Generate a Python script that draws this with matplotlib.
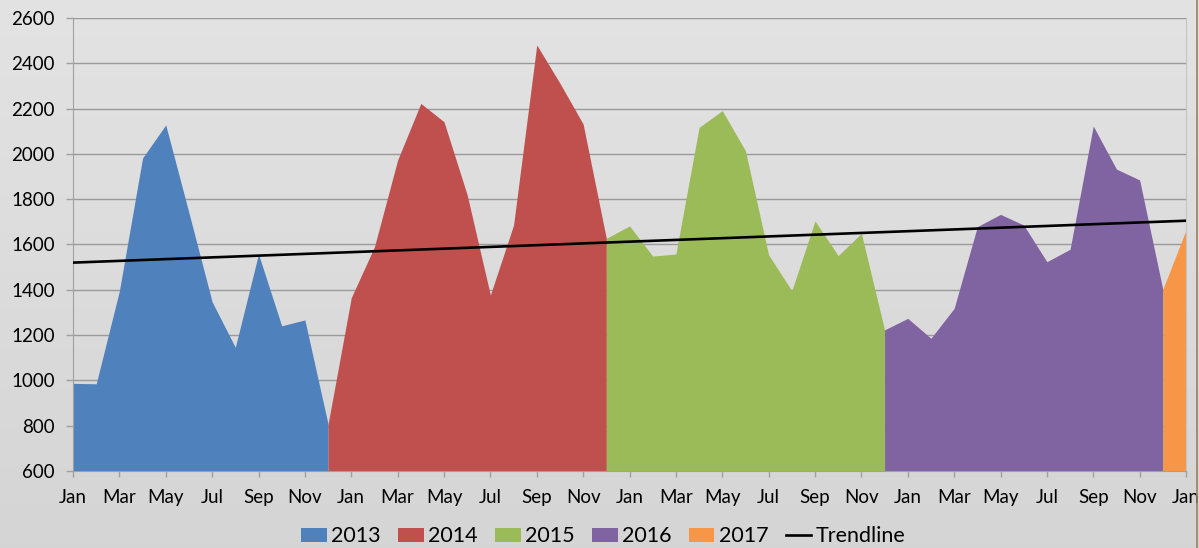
import numpy as np
import matplotlib
matplotlib.use("Agg")
import matplotlib.pyplot as plt
from matplotlib.patches import Patch
from matplotlib.lines import Line2D

# ── data (monthly values) ──────────────────────────────────────────────────
sales_2013 = [987, 985, 1395, 1982, 2128, 1740, 1347, 1146, 1558, 1241, 1267, 807]
sales_2014 = [1365, 1590, 1973, 2223, 2142, 1819, 1377, 1686, 2481, 2312, 2132, 1627]
sales_2015 = [1682, 1549, 1558, 2117, 2191, 2014, 1554, 1396, 1704, 1551, 1649, 1223]
sales_2016 = [1274, 1186, 1318, 1679, 1733, 1686, 1524, 1579, 2123, 1933, 1885, 1402]
sales_2017 = [1664]
years = ["2013", "2014", "2015", "2016", "2017"]
trend_ends = [1520, 1705]
month_labels = ["Jan", "Mar", "May", "Jul", "Sep", "Nov"]

colors = ["#4F81BD", "#C0504D", "#9BBB59", "#8064A2", "#F79646"]

series = np.array(sales_2013 + sales_2014 + sales_2015 + sales_2016 + sales_2017, dtype=float)
x = np.arange(len(series))

# each year's area starts at the previous December so the areas join up
starts = [0, 11, 23, 35, 47]
ends = [11, 23, 35, 47, 48]

plt.rcParams["font.family"] = ["Lato", "DejaVu Sans"]

fig = plt.figure(figsize=(11.99, 5.48), dpi=100)

# background gradient over whole figure
bg = fig.add_axes([0, 0, 1, 1], zorder=-10)
grad = np.linspace(0.89, 0.835, 256).reshape(-1, 1)
bg.imshow(np.dstack([grad, grad, grad]), aspect="auto", extent=[0, 1, 0, 1])
bg.axis("off")

ax = fig.add_axes([73 / 1199, 1 - 471 / 548, (1186 - 73) / 1199, (471 - 18) / 548])
ax.patch.set_alpha(0)

for yr, c, s, e in zip(years, colors, starts, ends):
    ax.fill_between(x[s:e + 1], 600, series[s:e + 1], color=c, linewidth=0, zorder=2)

ax.plot([x[0], x[-1]], trend_ends, color="black", lw=1.9, zorder=3)

# ── axes styling ───────────────────────────────────────────────────────────
ax.set_xlim(0, 48)
ax.set_ylim(600, 2600)
ax.set_yticks(np.arange(600, 2601, 200))
ax.set_xticks(np.arange(0, 49, 2))
ax.set_xticklabels([month_labels[i % 6] for i in range(25)])
ax.grid(axis="y", color="#9a9a9a", lw=1.0, zorder=1)
ax.set_axisbelow(True)

ax.spines["top"].set_visible(False)
ax.spines["left"].set_color("#a0a0a0")
ax.spines["bottom"].set_color("#a0a0a0")
ax.spines["right"].set_color("#c4c4c4")
ax.tick_params(axis="y", length=5, width=1, color="#a0a0a0", pad=8, labelsize=13.5)
ax.tick_params(axis="x", length=4, width=1, color="#a0a0a0", pad=9, labelsize=13.5)

# ── legend ─────────────────────────────────────────────────────────────────
handles = [Patch(facecolor=c, edgecolor="none") for c in colors]
handles.append(Line2D([], [], color="black", lw=1.9))
fig.legend(handles, years + ["Trendline"], loc="center", bbox_to_anchor=(0.503, 0.021),
           ncol=6, frameon=False, fontsize=15.5, handlelength=1.2, handleheight=0.6,
           handletextpad=0.2, columnspacing=0.8)

# thin border on the right edge
fig.add_artist(Line2D([1197 / 1199, 1197 / 1199], [0, 1], color="#9c7f5c", lw=1.2))

plt.savefig("out.png", dpi=100)
plt.close()
